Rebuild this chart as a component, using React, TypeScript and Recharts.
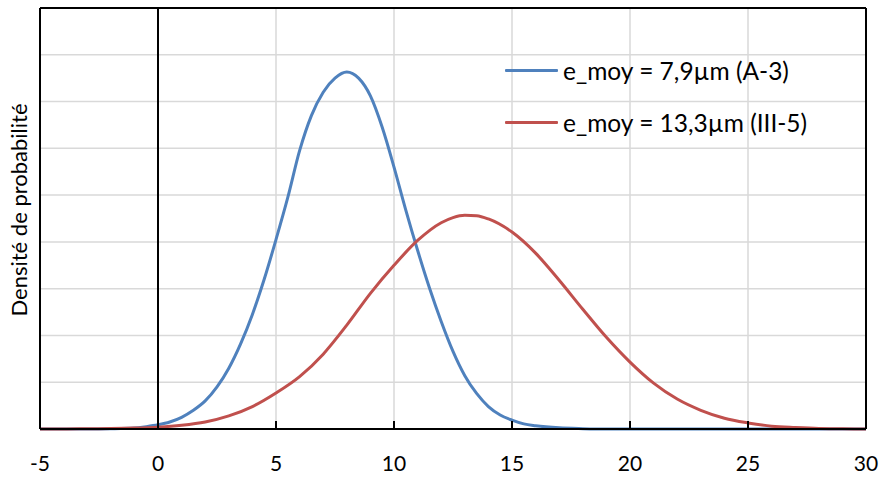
import React from 'react';
import { LineChart, Line, XAxis, YAxis, CartesianGrid, ReferenceLine, Legend } from 'recharts';

const xTicks = [-5, 0, 5, 10, 15, 20, 25, 30];
const yTicks = [0, 1, 2, 3, 4, 5, 6, 7, 8, 9];

const blueName = 'e_moy = 7,9µm (A-3)';
const redName = 'e_moy = 13,3µm (III-5)';
const legendOrder = [blueName, redName];

const blueX = [-5, -4, -3, -2, -1, -0.5, 0, 0.5, 1, 1.5, 2, 2.5, 3, 3.5, 4, 4.5, 5, 5.5, 6, 6.5, 7, 7.5, 8, 8.5, 9, 9.5, 10, 10.5, 11, 11.5, 12, 12.5, 13, 13.5, 14, 14.5, 15, 15.5, 16, 17, 18, 19, 20, 22, 25, 30];
const blueY = [0, 0, 0, 0.005, 0.02, 0.05, 0.09, 0.15, 0.25, 0.4, 0.6, 0.9, 1.3, 1.82, 2.45, 3.2, 4.05, 4.95, 5.95, 6.7, 7.2, 7.5, 7.63, 7.5, 7.12, 6.45, 5.6, 4.68, 3.82, 3.02, 2.3, 1.66, 1.14, 0.76, 0.48, 0.3, 0.19, 0.11, 0.07, 0.025, 0.008, 0, 0, 0, 0, 0];

const redX = [-5, -4, -3, -2, -1, 0, 1, 2, 3, 4, 5, 6, 7, 8, 9, 10, 11, 12, 12.5, 13, 13.5, 14, 15, 16, 17, 18, 19, 20, 21, 22, 23, 24, 25, 26, 27, 28, 29, 30];
const redY = [0, 0, 0.005, 0.01, 0.02, 0.04, 0.08, 0.15, 0.28, 0.48, 0.77, 1.12, 1.6, 2.22, 2.9, 3.5, 4.03, 4.41, 4.52, 4.57, 4.56, 4.49, 4.21, 3.76, 3.18, 2.56, 1.96, 1.43, 0.98, 0.64, 0.4, 0.23, 0.13, 0.06, 0.03, 0.01, 0.005, 0];

const blueData = blueX.map((x, i) => ({ x, y: blueY[i] }));
const redData = redX.map((x, i) => ({ x, y: redY[i] }));

const FONT = 'Lato, "Liberation Sans", sans-serif';

const renderLegend = (props: any) => {
  const payload = [...(props.payload || [])].sort(
    (a: any, b: any) => legendOrder.indexOf(a.value) - legendOrder.indexOf(b.value)
  );
  return (
    <div style={{ fontFamily: FONT }}>
      {payload.map((entry: any) => (
        <div key={entry.value} style={{ display: 'flex', alignItems: 'center', height: 52 }}>
          <div style={{ width: 53, height: 3, background: entry.color, borderRadius: 1 }} />
          <span style={{ marginLeft: 5, fontSize: 24.5, color: '#000', whiteSpace: 'nowrap' }}>{entry.value}</span>
        </div>
      ))}
    </div>
  );
};

const YLabel = () => (
  <text
    x={0}
    y={0}
    transform="translate(27,210) rotate(-90)"
    textAnchor="middle"
    fontSize={22}
    fontFamily={FONT}
    fill="#000"
  >
    Densité de probabilité
  </text>
);

const EmptyTick = () => <g />;

export default function App() {
  return (
    <div style={{ position: 'absolute', left: 0, top: 0, background: '#fff' }}>
      <LineChart
        width={881}
        height={477}
        margin={{ top: 8, right: 15, left: 0, bottom: 0 }}
        style={{ fontFamily: FONT }}
      >
        <CartesianGrid stroke="#D9D9D9" strokeWidth={1.5} />
        <XAxis
          type="number"
          dataKey="x"
          domain={[-5, 30]}
          ticks={xTicks}
          allowDataOverflow
          height={48}
          tickSize={-8}
          tickMargin={35}
          axisLine={{ stroke: '#000', strokeWidth: 2 }}
          tickLine={{ stroke: '#000', strokeWidth: 2 }}
          tick={{ fill: '#000', fontSize: 21, fontFamily: FONT }}
        />
        <YAxis
          type="number"
          domain={[0, 9]}
          ticks={yTicks}
          interval={0}
          width={40}
          tick={EmptyTick}
          tickLine={false}
          axisLine={{ stroke: '#000', strokeWidth: 2 }}
          label={{ content: () => <YLabel /> }}
        />
        <ReferenceLine x={0} stroke="#000" strokeWidth={2} />
        <ReferenceLine x={30} stroke="#000" strokeWidth={2} />
        <ReferenceLine y={9} stroke="#000" strokeWidth={2} />
        <Legend
          layout="vertical"
          align="center"
          verticalAlign="middle"
          content={renderLegend}
          wrapperStyle={{ left: 505, top: 44, width: 370 }}
        />
        <Line
          data={blueData}
          dataKey="y"
          name={blueName}
          type="monotone"
          stroke="#4F81BD"
          strokeWidth={3}
          dot={false}
          activeDot={false}
          isAnimationActive={false}
        />
        <Line
          data={redData}
          dataKey="y"
          name={redName}
          type="monotone"
          stroke="#C0504D"
          strokeWidth={3}
          dot={false}
          activeDot={false}
          isAnimationActive={false}
        />
      </LineChart>
    </div>
  );
}
